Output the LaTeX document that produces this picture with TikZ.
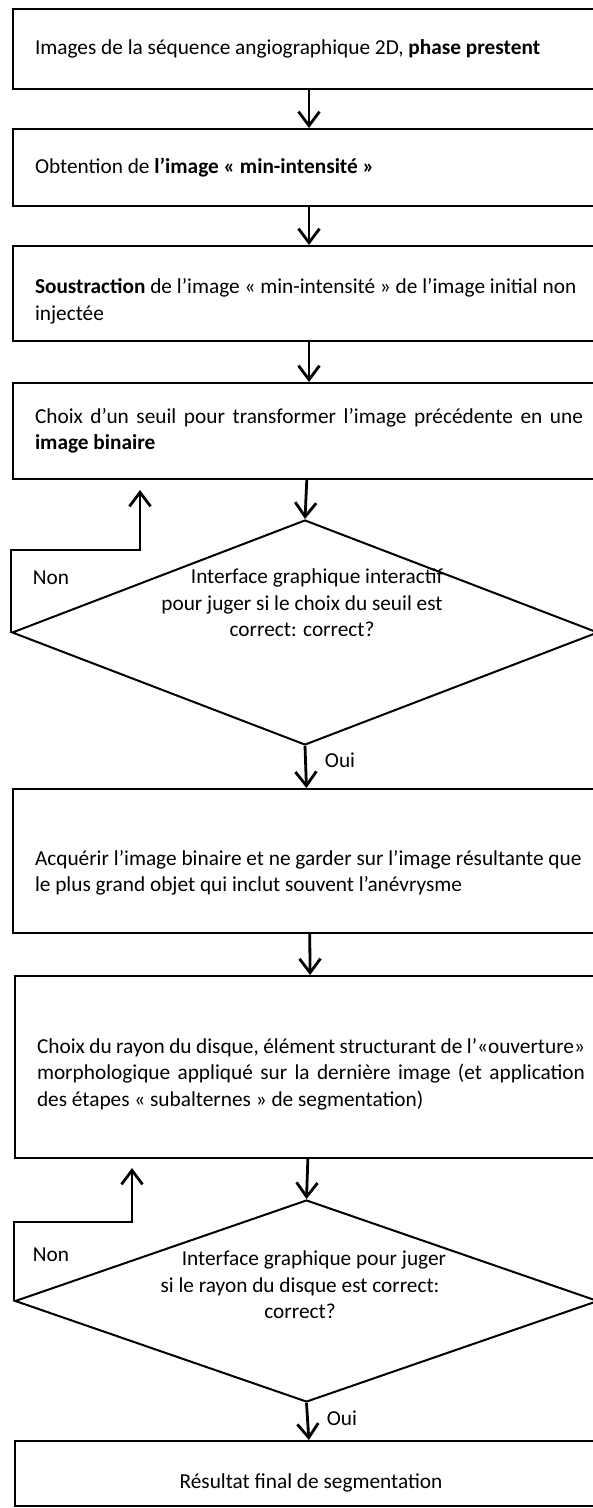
\documentclass[tikz,border=0pt]{standalone}
\usepackage{fontspec}
\setmainfont{Carlito}
\usetikzlibrary{shapes.geometric,arrows.meta}
\hyphenpenalty=10000
\exhyphenpenalty=10000
\newcommand{\boxdrop}[1]{\rule{0pt}{#1}}

\tikzset{
	stepbox/.style={draw, line width=1pt, anchor=north west, minimum width=296pt,
		text width=274pt, inner xsep=11pt, align=justify},
	decision/.style={draw, diamond, line width=1pt, aspect=2.6, inner sep=0pt},
	flow/.style={line width=1.4pt, -{Straight Barb[length=7pt,width=10.5pt]}}
}

\begin{document}
\begin{tikzpicture}[x=0.5pt, y=-0.5pt, font=\fontsize{10.65}{13.2}\selectfont]
	\useasboundingbox (0,0) rectangle (593,1508);
	\node[stepbox, minimum height=40pt] (img) at (12,8)
		{Images de la séquence angiographique 2D, \textbf{phase prestent}};
	\node[stepbox, minimum height=38.5pt] (minint) at (12,128)
		{Obtention de \textbf{l’image « min-intensité »}};
	\node[stepbox, minimum height=47.5pt] (soustr) at (12,245)
		{\boxdrop{15.5pt}\textbf{Soustraction} de l’image « min-intensité » de l’image initial non\\ injectée};
	\node[stepbox, minimum height=48pt] (seuil) at (12,382)
		{Choix d’un seuil pour transformer l’image précédente en une\linebreak \textbf{image binaire}};
	\node[decision, minimum width=293pt, minimum height=112.5pt] (dec1) at (305,632.5) {};
	\node[align=center, inner sep=0pt] (q1) at (302,603)
		{\hspace*{15pt}Interface graphique interactif\\ pour juger si le choix du seuil est\\ correct: correct?};
	\node[stepbox, minimum height=72pt] (binaire) at (12,788)
		{\boxdrop{19.5pt}Acquérir l’image binaire et ne garder sur l’image résultante que\\ le plus grand objet qui inclut souvent l’anévrysme};
	\node[stepbox, minimum height=91pt] (rayon) at (14,975)
		{\boxdrop{14.5pt}Choix du rayon du disque, élément structurant de l’«ouverture»\linebreak morphologique appliqué sur la dernière image (et application\linebreak des étapes « subalternes » de segmentation)};
	\node[decision, minimum width=291.5pt, minimum height=101pt] (dec2) at (306.5,1301) {};
	\node[align=center, inner sep=0pt] (q2) at (300,1285)
		{\hspace*{14pt}Interface graphique pour juger\\ si le rayon du disque est correct:\\ correct?};
	\node[stepbox, minimum height=32.5pt] (final) at (14,1440)
		{\makebox[\linewidth]{\boxdrop{16.5pt}Résultat final de segmentation}};

	\node (non1) at (51,578) {Non};
	\node (non2) at (51,1255) {Non};
	\coordinate (back1) at (140,550);
	\coordinate (back1end) at (140,490);
	\coordinate (back2) at (132,1222);
	\coordinate (back2end) at (132,1168);

	\draw[flow] (img) -- (minint);
	\draw[flow] (minint) -- (soustr);
	\draw[flow] (soustr) -- (seuil);
	\draw[flow] (seuil) -- (dec1.north);
	\draw[flow] (dec1.south) -- node[pos=0.35, anchor=west, inner xsep=9pt] (oui1) {Oui} (binaire);
	\draw[flow] (dec1.west) |- (back1) -- (back1end);
	\draw[flow] (binaire) -- (rayon);
	\draw[flow] (rayon) -- (dec2.north);
	\draw[flow] (dec2.south) -- node[pos=0.4, anchor=west, inner xsep=9pt] (oui2) {Oui} (final);
	\draw[flow] (dec2.west) |- (back2) -- (back2end);
\end{tikzpicture}
\end{document}
